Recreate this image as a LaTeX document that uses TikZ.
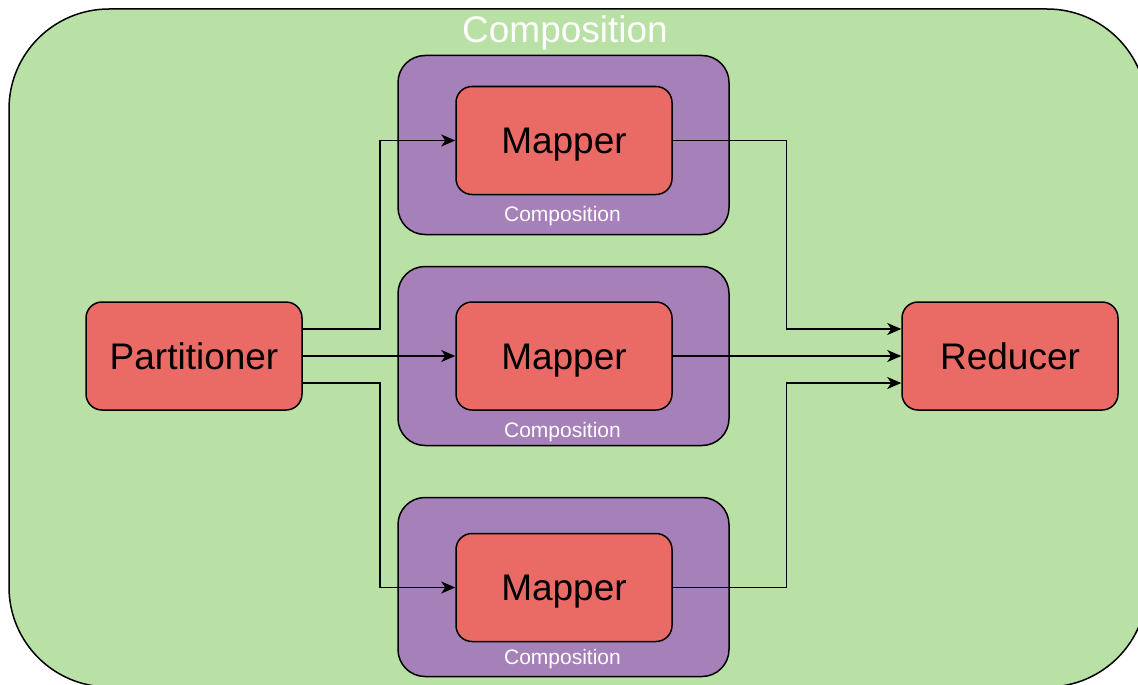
\documentclass[tikz,border=0pt]{standalone}
\usepackage{fontspec}
\setmainfont{Liberation Sans}
\usetikzlibrary{arrows.meta}
\definecolor{outergreen}{HTML}{B9E0A5}
\definecolor{compviolet}{HTML}{A680B8}
\definecolor{stagered}{HTML}{EA6B66}
\tikzset{
  container/.style={draw=black, fill=outergreen, line width=1.5pt, rounded corners=100pt,
    minimum width=1138pt, minimum height=678pt, inner sep=0pt},
  stage/.style={draw=black, fill=stagered, line width=1.5pt, rounded corners=16pt,
    minimum width=216pt, minimum height=108pt, inner sep=0pt,
    text height=26.5pt, text depth=0pt, font=\fontsize{37}{44}\selectfont},
  wrapper/.style={draw=black, fill=compviolet, line width=1.5pt, rounded corners=27pt,
    minimum width=331pt, minimum height=179pt, inner sep=0pt},
  wraplabel/.style={text=white, font=\fontsize{21}{25}\selectfont, anchor=base, inner sep=0pt},
  titlelabel/.style={text=white, font=\fontsize{37}{44}\selectfont, anchor=base, inner sep=0pt},
  flow/.style={draw=black, line width=1.5pt, -{Stealth[length=14pt, width=12pt, inset=4pt]}},
}
\begin{document}
\begin{tikzpicture}[x=1pt, y=-1pt]
\useasboundingbox (0,0) rectangle (1138,685);
\clip (0,0) rectangle (1138,685);

% outer composition container
\node[container] (outer) at (578,348) {};
\node[titlelabel] (title) at (565,43) {Composition};

% inner compositions wrapping each mapper
\node[wrapper] (wrapA) at (563.5,145) {};
\node[wrapper] (wrapB) at (563.5,356) {};
\node[wrapper] (wrapC) at (563.5,587) {};
\node[wraplabel] (labA) at (562.5,221) {Composition};
\node[wraplabel] (labB) at (562.5,437) {Composition};
\node[wraplabel] (labC) at (562.5,664) {Composition};

% stages
\node[stage] (part) at (194,356) {Partitioner};
\node[stage] (mapA) at (564,140.5) {Mapper};
\node[stage] (mapB) at (564,356) {Mapper};
\node[stage] (mapC) at (564,587.5) {Mapper};
\node[stage] (red) at (1010,356) {Reducer};

% partitioner fan-out
\draw[flow] ([yshift=27pt]part.east) -- ++(77,0) |- (mapA.west);
\draw[flow] (part.east) -- (mapB.west);
\draw[flow] ([yshift=-27pt]part.east) -- ++(77,0) |- (mapC.west);

% mapper fan-in
\draw[flow] (mapA.east) -| ([xshift=-115pt,yshift=27pt]red.west) -- ([yshift=27pt]red.west);
\draw[flow] (mapB.east) -- (red.west);
\draw[flow] (mapC.east) -| ([xshift=-115pt,yshift=-27pt]red.west) -- ([yshift=-27pt]red.west);
\end{tikzpicture}
\end{document}
